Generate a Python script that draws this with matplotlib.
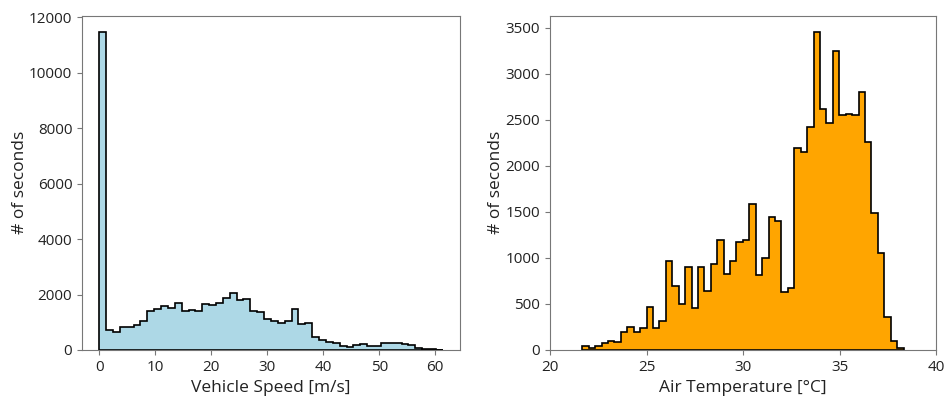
import numpy as np
import matplotlib.pyplot as plt

plt.rcParams['font.family'] = ['Open Sans', 'DejaVu Sans']

# vehicle speed histogram: 50 bins between 0 and 61.35 m/s
speed_range = (0.0, 61.35)
speed_counts = [11480, 720, 650, 820, 840, 910, 1030, 1400, 1470, 1570,
                1500, 1710, 1395, 1450, 1400, 1660, 1620, 1680, 1860, 2040,
                1800, 1830, 1400, 1360, 1130, 1045, 975, 1060, 1470, 940,
                960, 480, 360, 290, 240, 155, 120, 170, 215, 145,
                145, 265, 240, 250, 205, 180, 70, 50, 35, 15]

# air temperature histogram: 50 bins between 21.67 and 38.32 degC
temp_range = (21.67, 38.32)
temp_counts = [45, 18, 47, 76, 98, 83, 200, 254, 192, 235,
               464, 235, 312, 964, 699, 496, 906, 453, 902, 641,
               931, 1196, 822, 967, 1170, 1192, 1590, 815, 996, 1442,
               1402, 634, 670, 2192, 2156, 2420, 3460, 2623, 2471, 3250,
               2551, 2561, 2554, 2800, 2261, 1485, 1058, 355, 98, 18]


def draw_hist(ax, counts, rng, color):
    edges = np.linspace(rng[0], rng[1], len(counts) + 1)
    ax.hist(edges[:-1], bins=edges, weights=counts, histtype='stepfilled',
            facecolor=color, edgecolor='black', linewidth=1.2)
    for s in ax.spines.values():
        s.set_color('#777777')
    ax.tick_params(colors='#777777', labelcolor='#222222', labelsize=11)
    ax.set_ylabel('# of seconds', fontsize=12.5, color='#222222', labelpad=1)


fig = plt.figure(figsize=(9.47, 3.97), dpi=100)
ax1 = fig.add_axes([0.0866, 0.1184, 0.3991, 0.8423])
ax2 = fig.add_axes([0.5808, 0.1184, 0.4076, 0.8423])

draw_hist(ax1, speed_counts, speed_range, 'lightblue')
ax1.set_xlabel('Vehicle Speed [m/s]', fontsize=12.5, color='#222222')

draw_hist(ax2, temp_counts, temp_range, 'orange')
ax2.set_xlim(20, 40)
ax2.set_xticks([20, 25, 30, 35, 40])
ax2.set_xlabel('Air Temperature [°C]', fontsize=12.5, color='#222222')

fig.savefig('out.png', dpi=100)
